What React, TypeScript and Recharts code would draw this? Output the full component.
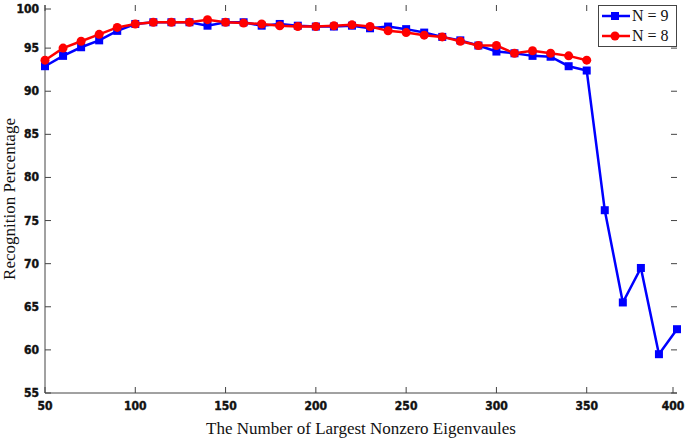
import { LineChart, Line, XAxis, YAxis } from 'recharts'

// x positions (number of eigenvalues kept)
const eigenCounts = [
  50, 60, 70, 80, 90, 100, 110, 120, 130, 140, 150, 160, 170, 180, 190, 200,
  210, 220, 230, 240, 250, 260, 270, 280, 290, 300, 310, 320, 330, 340, 350,
  360, 370, 380, 390, 400,
]

// N = 9 (blue squares)
const n9 = [
  92.9, 94.1, 95.1, 95.9, 97.0, 97.8, 98.0, 98.0, 98.0, 97.6, 98.0, 98.0, 97.6, 97.8, 97.6, 97.5,
  97.5, 97.6, 97.3, 97.5, 97.2, 96.8, 96.3, 95.9, 95.3, 94.6, 94.4, 94.1, 94.0, 92.9, 92.4,
  76.2, 65.5, 69.5, 59.5, 62.4,
]

// N = 8 (red circles), stops at 350
const n8 = [
  93.6, 95.0, 95.8, 96.6, 97.4, 97.8, 98.0, 98.0, 98.0, 98.3, 98.0, 97.9, 97.8, 97.6, 97.5, 97.5,
  97.6, 97.7, 97.5, 97.0, 96.8, 96.5, 96.3, 95.8, 95.3, 95.3, 94.4, 94.7, 94.4, 94.1, 93.6,
]

const xTicks = [50, 100, 150, 200, 250, 300, 350, 400]
const yTicks = [55, 60, 65, 70, 75, 80, 85, 90, 95, 100]

const data = eigenCounts.map((x, i) => ({ x, n9: n9[i], n8: n8[i] }))

// plot box in px (matches margins / axis sizes below)
const PLOT = { left: 45, right: 677, top: 5, bottom: 393 }
const FRAME = '#444'
const TICK_LEN = 6
const tickStyle = {
  fontFamily: '"Liberation Sans Narrow", "DejaVu Sans Condensed", sans-serif',
  fontWeight: 700,
  fontSize: 12,
  fill: '#111',
  stroke: '#111',
  strokeWidth: 0.4,
}
const serif = '"Liberation Serif", "DejaVu Serif", serif'

const YTick = ({ x, y, payload }: any) => (
  <g>
    <text x={x + 2} y={y} dy={4} textAnchor="end" style={tickStyle}>
      {payload.value}
    </text>
    <line x1={PLOT.left} x2={PLOT.left + TICK_LEN} y1={y} y2={y} stroke={FRAME} />
    <line x1={PLOT.right - TICK_LEN} x2={PLOT.right} y1={y} y2={y} stroke={FRAME} />
  </g>
)

const XTick = ({ x, y, payload }: any) => (
  <g>
    <text x={x} y={y} dy={9} textAnchor="middle" style={tickStyle}>
      {payload.value}
    </text>
    <line x1={x} x2={x} y1={PLOT.bottom - TICK_LEN} y2={PLOT.bottom} stroke={FRAME} />
    <line x1={x} x2={x} y1={PLOT.top} y2={PLOT.top + TICK_LEN} stroke={FRAME} />
  </g>
)

const LegendBox = () => (
  <div
    style={{
      position: 'absolute', left: 598, top: 5, width: 79, height: 42,
      border: `1px solid ${FRAME}`, background: '#fff', boxSizing: 'border-box',
    }}
  >
    <svg width={78} height={41} style={{ position: 'absolute', left: 0, top: 0 }}>
      <line x1={3} x2={31} y1={10} y2={10} stroke="#0000ff" strokeWidth={2.5} />
      <rect x={12} y={6} width={8} height={8} fill="#0000ff" />
      <text x={33} y={15} fontFamily={serif} fontSize={16} fill="#111">N = 9</text>
      <line x1={3} x2={31} y1={30} y2={30} stroke="#ff0000" strokeWidth={2.5} />
      <circle cx={16} cy={30} r={4.5} fill="#ff0000" />
      <text x={33} y={35} fontFamily={serif} fontSize={16} fill="#111">N = 8</text>
    </svg>
  </div>
)

export default function App() {
  return (
    <div style={{ position: 'absolute', left: 0, top: 0, width: 685, height: 438, background: '#fff' }}>
      <LineChart width={685} height={438} data={data} margin={{ top: 5, right: 8, bottom: 0, left: 0 }}>
        <XAxis
          dataKey="x"
          type="number"
          domain={[50, 400]}
          ticks={xTicks}
          height={45}
          stroke={FRAME}
          tickLine={false}
          tick={<XTick />}
          label={{
            value: 'The Number of Largest Nonzero Eigenvaules',
            position: 'insideBottom',
            offset: 4,
            style: { fontFamily: serif, fontSize: 17, fill: '#111' },
          }}
        />
        <XAxis xAxisId="top" dataKey="x" type="number" domain={[50, 400]} orientation="top" height={0} tick={false} tickLine={false} stroke={FRAME} />
        <YAxis
          type="number"
          domain={[55, 100]}
          ticks={yTicks}
          width={45}
          stroke={FRAME}
          tickLine={false}
          tick={<YTick />}
          label={{
            value: 'Recognition Percentage',
            angle: -90,
            position: 'insideLeft',
            offset: 9,
            style: { fontFamily: serif, fontSize: 17, fill: '#111', textAnchor: 'middle' },
          }}
        />
        <YAxis yAxisId="right" type="number" domain={[55, 100]} orientation="right" width={0} tick={false} tickLine={false} stroke={FRAME} />
        <Line
          dataKey="n9"
          stroke="#0000ff"
          strokeWidth={2.5}
          isAnimationActive={false}
          dot={(p: any) => <rect key={p.index} x={p.cx - 4} y={p.cy - 4} width={8} height={8} fill="#0000ff" />}
        />
        <Line
          dataKey="n8"
          stroke="#ff0000"
          strokeWidth={2.5}
          isAnimationActive={false}
          dot={{ r: 4.5, fill: '#ff0000', stroke: 'none' }}
        />
      </LineChart>
      <LegendBox />
    </div>
  )
}
